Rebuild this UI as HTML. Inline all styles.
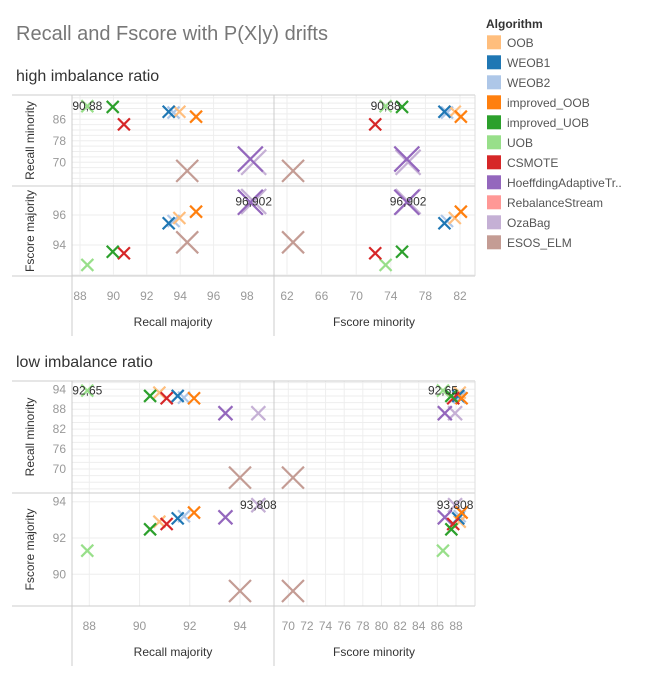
<!DOCTYPE html>
<html><head><meta charset="utf-8"><style>
body{margin:0;background:#fff;width:647px;height:675px;overflow:hidden;font-family:"Liberation Sans",sans-serif}
svg{position:absolute;left:0;top:0}
</style></head><body>
<svg id="c" width="647" height="675"></svg>
<script>
const algorithms=["OOB","WEOB1","WEOB2","improved_OOB","improved_UOB","UOB","CSMOTE","HoeffdingAdaptiveTr..","RebalanceStream","OzaBag","ESOS_ELM"];
const colors=["#ffbe7d","#1f77b4","#aec7e8","#ff7f0e","#2ca02c","#98df8a","#d62728","#9467bd","#ff9896","#c5b0d5","#c49c94"];
// high imbalance (null = not plotted)
const hiRecMaj=[93.95,93.31,93.6,94.95,89.96,88.44,90.63,98.2,null,98.4,94.42];
const hiRecMin=[88.8,88.8,88.5,86.97,90.6,90.88,84.1,71.2,null,70.0,66.8];
const hiFMaj=[95.8,95.45,95.6,96.22,93.55,92.67,93.45,96.85,null,96.902,94.18];
const hiFMin=[81.4,80.2,80.5,82.1,75.3,73.4,72.2,75.85,null,76.0,62.7];
// low imbalance
const loRecMaj=[90.79,91.52,91.77,92.17,90.42,87.92,91.08,93.42,null,94.73,94.0];
const loRecMin=[93.0,92.0,91.5,91.3,92.0,93.6,91.3,86.8,null,86.8,67.4];
const loFMaj=[92.9,93.08,93.2,93.4,92.48,91.3,92.77,93.14,null,93.808,89.08];
const loFMin=[88.4,88.24,88.4,88.6,87.5,86.6,87.7,86.8,null,87.9,70.5];
const markSizeHi=[12,12,12,12,12,12,12,25,12,25,22];
const markSizeLo=[12,12,12,12,12,12,12,14,12,14,22];
const hiXLeftTicks=[88,90,92,94,96,98];
const hiXRightTicks=[62,66,70,74,78,82];
const hiYTopTicks=[70,78,86];
const hiYBotTicks=[94,96];
const loXLeftTicks=[88,90,92,94];
const loXRightTicks=[70,72,74,76,78,80,82,84,86,88];
const loYTopTicks=[70,76,82,88,94];
const loYBotTicks=[90,92,94];

const S=document.getElementById('c');const NS='http://www.w3.org/2000/svg';
function el(t,a,txt){const e=document.createElementNS(NS,t);for(const k in a)e.setAttribute(k,a[k]);if(txt!==undefined)e.textContent=txt;S.appendChild(e);return e;}
function lin(v0,p0,v1,p1){return v=>p0+(v-v0)*(p1-p0)/(v1-v0);}

let t=el('text',{x:16,y:40,'font-size':20,fill:'#777'},'Recall and Fscore with P(X|y) drifts');


function panel(cfg){
 const {top,mid,bot,sub,xl,xr,yt,yb,xlT,xrT,ytT,ybT,ytMinor,ybMinor,data,sizes,labTop,labBot,name}=cfg;
 let s=el('text',{x:16,y:top-14,'font-size':16,fill:'#333'},sub);
 
 const L=72,M=274,R=475;
 // gridlines
 for(let v=ytMinor[0];v<=ytMinor[1];v+=ytMinor[2]){const y=yt(v);if(y>top&&y<mid)el('line',{x1:L,x2:R,y1:y,y2:y,stroke:'#eee','stroke-width':1});}
 for(let v=ybMinor[0];v<=ybMinor[1];v+=ybMinor[2]){const y=yb(v);if(y>mid&&y<bot)el('line',{x1:L,x2:R,y1:y,y2:y,stroke:'#eee','stroke-width':1});}
 xlT.forEach(v=>el('line',{x1:xl(v),x2:xl(v),y1:top,y2:bot,stroke:'#eee'}));
 xrT.forEach(v=>el('line',{x1:xr(v),x2:xr(v),y1:top,y2:bot,stroke:'#eee'}));
 // frame
 [top,mid,bot].forEach(y=>el('line',{x1:12,x2:R,y1:y,y2:y,stroke:'#ccc'}));
 [L,M].forEach(x=>el('line',{x1:x,x2:x,y1:top,y2:bot+60,stroke:'#ccc'}));
 el('line',{x1:R,x2:R,y1:top,y2:bot,stroke:'#ddd'});
 // ticks
 xlT.forEach(v=>{const e=el('text',{x:xl(v),y:bot+24,'font-size':12,fill:'#999','text-anchor':'middle'},v);});
 xrT.forEach(v=>{const e=el('text',{x:xr(v),y:bot+24,'font-size':12,fill:'#999','text-anchor':'middle'},v);});
 ytT.forEach(v=>{const e=el('text',{x:66,y:yt(v)+4,'font-size':12,fill:'#999','text-anchor':'end'},v);});
 ybT.forEach(v=>{const e=el('text',{x:66,y:yb(v)+4,'font-size':12,fill:'#999','text-anchor':'end'},v);});
 let a=el('text',{x:173,y:bot+50,'font-size':12,fill:'#333','text-anchor':'middle'},'Recall majority');
 a=el('text',{x:374,y:bot+50,'font-size':12,fill:'#333','text-anchor':'middle'},'Fscore minority');
 a=el('text',{x:0,y:0,'font-size':12,fill:'#333','text-anchor':'middle',transform:`translate(34,${(top+mid)/2}) rotate(-90)`},'Recall minority');
 a=el('text',{x:0,y:0,'font-size':12,fill:'#333','text-anchor':'middle',transform:`translate(34,${(mid+bot)/2}) rotate(-90)`},'Fscore majority');
 // marks
 const [rmaj,rmin,fmaj,fmin]=data;
 function X(cx,cy,sz,col){const h=sz/2;const g=el('g',{});
  
  [[cx-h,cy-h,cx+h,cy+h],[cx-h,cy+h,cx+h,cy-h]].forEach(p=>{const l=document.createElementNS(NS,'line');l.setAttribute('x1',p[0]);l.setAttribute('y1',p[1]);l.setAttribute('x2',p[2]);l.setAttribute('y2',p[3]);l.setAttribute('stroke',col);l.setAttribute('stroke-width',2.2);g.appendChild(l);});}
 const order=[10,9,7,5,2,0,1,3,6,4];
 order.forEach(i=>{if(rmaj[i]==null)return;const c=colors[i],z=sizes[i];
  X(xl(rmaj[i]),yt(rmin[i]),z,c);X(xr(fmin[i]),yt(rmin[i]),z,c);
  X(xl(rmaj[i]),yb(fmaj[i]),z,c);X(xr(fmin[i]),yb(fmaj[i]),z,c);});
 // labels
 const [li,lt]=labTop,[bi,bt]=labBot;
 [[xl(rmaj[li]),yt(rmin[li])],[xr(fmin[li]),yt(rmin[li])]].forEach(p=>{const e=el('text',{x:p[0],y:p[1]+4,'font-size':12,fill:'#333','text-anchor':'middle'},lt);});
 [[xl(rmaj[bi]),yb(fmaj[bi])],[xr(fmin[bi]),yb(fmaj[bi])]].forEach(p=>{const e=el('text',{x:p[0],y:p[1]+4,'font-size':12,fill:'#333','text-anchor':'middle'},bt);});
}
panel({name:'high-imbalance',top:95,mid:186,bot:276,sub:'high imbalance ratio',
 xl:lin(88,80,98,247),xr:lin(62,287,82,460),yt:lin(86,119.3,70,162.3),yb:lin(96,215,94,245),
 xlT:hiXLeftTicks,xrT:hiXRightTicks,ytT:hiYTopTicks,ybT:hiYBotTicks,ytMinor:[60,96,2],ybMinor:[92,98,2],
 data:[hiRecMaj,hiRecMin,hiFMaj,hiFMin],sizes:markSizeHi,labTop:[5,'90,88'],labBot:[9,'96,902']});
panel({name:'low-imbalance',top:381,mid:493,bot:606,sub:'low imbalance ratio',
 xl:lin(88,89.3,94,240),xr:lin(70,288.3,88,456),yt:lin(94,389.3,70,469),yb:lin(94,501.7,90,574.3),
 xlT:loXLeftTicks,xrT:loXRightTicks,ytT:loYTopTicks,ybT:loYBotTicks,ytMinor:[62,96,2],ybMinor:[88,94,2],
 data:[loRecMaj,loRecMin,loFMaj,loFMin],sizes:markSizeLo,labTop:[5,'92,65'],labBot:[9,'93,808']});
// legend
let lg=el('text',{x:486,y:28,'font-size':12,'font-weight':'bold',fill:'#333'},'Algorithm');

algorithms.forEach((n,i)=>{const y=42.3+i*20;
 const r=el('rect',{x:487,y:y-7,width:14,height:14,fill:colors[i]});
 
 const tx=el('text',{x:507,y:y+4.5,'font-size':12,fill:'#555'},n);
 });
</script>
</body></html>
